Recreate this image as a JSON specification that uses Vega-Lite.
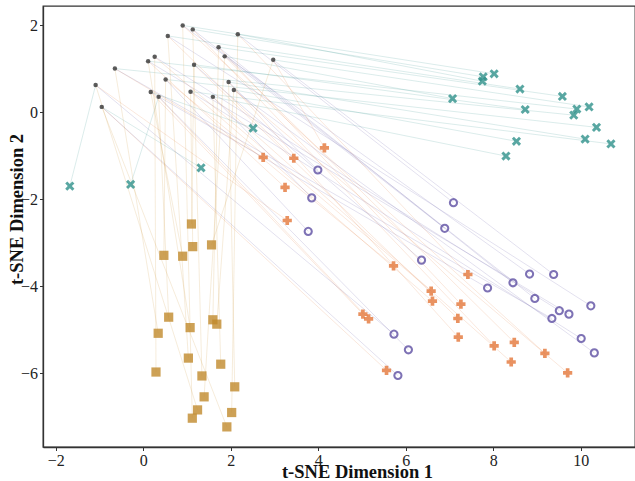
{
  "$schema": "https://vega.github.io/schema/vega-lite/v6.json",
  "width": 592,
  "height": 441,
  "autosize": {"type": "none"},
  "padding": {"left": 43, "top": 6, "right": 0, "bottom": 34},
  "background": "white",
  "config": {
    "font": "Liberation Serif",
    "view": {"stroke": "#333333", "strokeWidth": 1.3},
    "axis": {
      "grid": false,
      "domainColor": "#333333",
      "domainWidth": 1.3,
      "tickColor": "#333333",
      "tickSize": 3.5,
      "tickWidth": 1,
      "labelFont": "Liberation Serif",
      "labelFontSize": 16,
      "labelColor": "#222222",
      "titleFont": "Liberation Serif",
      "titleFontSize": 18.5,
      "titleFontWeight": "bold",
      "titleColor": "#111111"
    },
    "legend": {
      "orient": "none", "legendX": 204, "legendY": 379,
      "columns": 2, "columnPadding": 14, "rowPadding": 1.5,
      "labelFont": "Liberation Serif", "labelFontSize": 16, "labelColor": "#111111", "labelOffset": 4,
      "symbolStrokeWidth": 0, "symbolSize": 80,
      "padding": 5, "strokeColor": "#d0d0d0", "fillColor": "#ffffff", "cornerRadius": 3
    }
  },
  "datasets": {
    "points": [
      {"id": "b1", "dataset": "without TTSV", "x": 0.90, "y": 1.99},
      {"id": "b2", "dataset": "without TTSV", "x": 1.13, "y": 1.90},
      {"id": "b3", "dataset": "without TTSV", "x": 2.16, "y": 1.79},
      {"id": "b4", "dataset": "without TTSV", "x": 0.56, "y": 1.75},
      {"id": "b5", "dataset": "without TTSV", "x": 1.72, "y": 1.49},
      {"id": "b6", "dataset": "without TTSV", "x": 0.26, "y": 1.27},
      {"id": "b7", "dataset": "without TTSV", "x": 1.86, "y": 1.28},
      {"id": "b8", "dataset": "without TTSV", "x": 0.11, "y": 1.17},
      {"id": "b9", "dataset": "without TTSV", "x": 2.97, "y": 1.20},
      {"id": "b10", "dataset": "without TTSV", "x": -0.65, "y": 1.00},
      {"id": "b11", "dataset": "without TTSV", "x": 1.16, "y": 1.09},
      {"id": "b12", "dataset": "without TTSV", "x": 0.51, "y": 0.75},
      {"id": "b13", "dataset": "without TTSV", "x": 1.95, "y": 0.69},
      {"id": "b14", "dataset": "without TTSV", "x": 2.07, "y": 0.51},
      {"id": "b15", "dataset": "without TTSV", "x": -1.09, "y": 0.62},
      {"id": "b16", "dataset": "without TTSV", "x": 0.17, "y": 0.46},
      {"id": "b17", "dataset": "without TTSV", "x": 1.08, "y": 0.47},
      {"id": "b18", "dataset": "without TTSV", "x": 0.35, "y": 0.35},
      {"id": "b19", "dataset": "without TTSV", "x": 1.59, "y": 0.35},
      {"id": "b20", "dataset": "without TTSV", "x": -0.95, "y": 0.12},

      {"dataset": "TTSV on Olympiad Bench", "base": "b15", "x": -1.68, "y": -1.70},
      {"dataset": "TTSV on Olympiad Bench", "base": "b18", "x": -0.29, "y": -1.66},
      {"dataset": "TTSV on Olympiad Bench", "base": "b20", "x": 1.32, "y": -1.28},
      {"dataset": "TTSV on Olympiad Bench", "base": "b16", "x": 2.51, "y": -0.37},
      {"dataset": "TTSV on Olympiad Bench", "base": "b1", "x": 8.02, "y": 0.88},
      {"dataset": "TTSV on Olympiad Bench", "base": "b2", "x": 7.77, "y": 0.81},
      {"dataset": "TTSV on Olympiad Bench", "base": "b3", "x": 7.75, "y": 0.71},
      {"dataset": "TTSV on Olympiad Bench", "base": "b4", "x": 8.61, "y": 0.53},
      {"dataset": "TTSV on Olympiad Bench", "base": "b5", "x": 9.58, "y": 0.36},
      {"dataset": "TTSV on Olympiad Bench", "base": "b7", "x": 7.07, "y": 0.31},
      {"dataset": "TTSV on Olympiad Bench", "base": "b9", "x": 10.19, "y": 0.12},
      {"dataset": "TTSV on Olympiad Bench", "base": "b8", "x": 9.91, "y": 0.07},
      {"dataset": "TTSV on Olympiad Bench", "base": "b11", "x": 8.73, "y": 0.06},
      {"dataset": "TTSV on Olympiad Bench", "base": "b10", "x": 9.84, "y": -0.07},
      {"dataset": "TTSV on Olympiad Bench", "base": "b12", "x": 10.36, "y": -0.35},
      {"dataset": "TTSV on Olympiad Bench", "base": "b13", "x": 10.10, "y": -0.62},
      {"dataset": "TTSV on Olympiad Bench", "base": "b14", "x": 8.53, "y": -0.67},
      {"dataset": "TTSV on Olympiad Bench", "base": "b17", "x": 10.69, "y": -0.73},
      {"dataset": "TTSV on Olympiad Bench", "base": "b19", "x": 8.29, "y": -1.01},

      {"dataset": "TTSV on AMC23", "base": "b10", "x": 2.74, "y": -1.04},
      {"dataset": "TTSV on AMC23", "base": "b4", "x": 3.44, "y": -1.06},
      {"dataset": "TTSV on AMC23", "base": "b8", "x": 3.24, "y": -1.73},
      {"dataset": "TTSV on AMC23", "base": "b15", "x": 3.29, "y": -2.49},
      {"dataset": "TTSV on AMC23", "base": "b9", "x": 4.14, "y": -0.82},
      {"dataset": "TTSV on AMC23", "base": "b12", "x": 5.72, "y": -3.53},
      {"dataset": "TTSV on AMC23", "base": "b3", "x": 7.42, "y": -3.73},
      {"dataset": "TTSV on AMC23", "base": "b6", "x": 6.58, "y": -4.11},
      {"dataset": "TTSV on AMC23", "base": "b17", "x": 6.61, "y": -4.34},
      {"dataset": "TTSV on AMC23", "base": "b5", "x": 7.26, "y": -4.41},
      {"dataset": "TTSV on AMC23", "base": "b11", "x": 7.19, "y": -4.74},
      {"dataset": "TTSV on AMC23", "base": "b16", "x": 5.02, "y": -4.64},
      {"dataset": "TTSV on AMC23", "base": "b18", "x": 5.15, "y": -4.75},
      {"dataset": "TTSV on AMC23", "base": "b13", "x": 7.20, "y": -5.17},
      {"dataset": "TTSV on AMC23", "base": "b2", "x": 8.02, "y": -5.37},
      {"dataset": "TTSV on AMC23", "base": "b7", "x": 8.48, "y": -5.29},
      {"dataset": "TTSV on AMC23", "base": "b1", "x": 9.18, "y": -5.54},
      {"dataset": "TTSV on AMC23", "base": "b19", "x": 8.41, "y": -5.74},
      {"dataset": "TTSV on AMC23", "base": "b20", "x": 5.56, "y": -5.93},
      {"dataset": "TTSV on AMC23", "base": "b14", "x": 9.70, "y": -5.99},

      {"dataset": "TTSV on MATH500", "base": "b13", "x": 3.99, "y": -1.33},
      {"dataset": "TTSV on MATH500", "base": "b19", "x": 3.85, "y": -1.97},
      {"dataset": "TTSV on MATH500", "base": "b12", "x": 3.77, "y": -2.74},
      {"dataset": "TTSV on MATH500", "base": "b3", "x": 7.09, "y": -2.08},
      {"dataset": "TTSV on MATH500", "base": "b7", "x": 6.89, "y": -2.67},
      {"dataset": "TTSV on MATH500", "base": "b11", "x": 6.36, "y": -3.40},
      {"dataset": "TTSV on MATH500", "base": "b1", "x": 8.83, "y": -3.72},
      {"dataset": "TTSV on MATH500", "base": "b9", "x": 9.38, "y": -3.73},
      {"dataset": "TTSV on MATH500", "base": "b16", "x": 7.87, "y": -4.04},
      {"dataset": "TTSV on MATH500", "base": "b5", "x": 8.45, "y": -3.92},
      {"dataset": "TTSV on MATH500", "base": "b2", "x": 8.95, "y": -4.28},
      {"dataset": "TTSV on MATH500", "base": "b4", "x": 10.23, "y": -4.45},
      {"dataset": "TTSV on MATH500", "base": "b6", "x": 9.51, "y": -4.56},
      {"dataset": "TTSV on MATH500", "base": "b8", "x": 9.73, "y": -4.64},
      {"dataset": "TTSV on MATH500", "base": "b10", "x": 9.34, "y": -4.74},
      {"dataset": "TTSV on MATH500", "base": "b17", "x": 10.01, "y": -5.20},
      {"dataset": "TTSV on MATH500", "base": "b14", "x": 10.31, "y": -5.53},
      {"dataset": "TTSV on MATH500", "base": "b15", "x": 5.73, "y": -5.10},
      {"dataset": "TTSV on MATH500", "base": "b18", "x": 6.06, "y": -5.46},
      {"dataset": "TTSV on MATH500", "base": "b20", "x": 5.82, "y": -6.05},

      {"dataset": "TTSV on Minerva Math", "base": "b11", "x": 1.10, "y": -2.57},
      {"dataset": "TTSV on Minerva Math", "base": "b17", "x": 1.13, "y": -3.09},
      {"dataset": "TTSV on Minerva Math", "base": "b9", "x": 1.56, "y": -3.05},
      {"dataset": "TTSV on Minerva Math", "base": "b12", "x": 0.47, "y": -3.29},
      {"dataset": "TTSV on Minerva Math", "base": "b16", "x": 0.90, "y": -3.31},
      {"dataset": "TTSV on Minerva Math", "base": "b18", "x": 0.58, "y": -4.71},
      {"dataset": "TTSV on Minerva Math", "base": "b10", "x": 0.34, "y": -5.08},
      {"dataset": "TTSV on Minerva Math", "base": "b8", "x": 1.07, "y": -4.95},
      {"dataset": "TTSV on Minerva Math", "base": "b5", "x": 1.59, "y": -4.77},
      {"dataset": "TTSV on Minerva Math", "base": "b14", "x": 1.68, "y": -4.87},
      {"dataset": "TTSV on Minerva Math", "base": "b4", "x": 1.03, "y": -5.65},
      {"dataset": "TTSV on Minerva Math", "base": "b19", "x": 1.77, "y": -5.79},
      {"dataset": "TTSV on Minerva Math", "base": "b6", "x": 0.29, "y": -5.97},
      {"dataset": "TTSV on Minerva Math", "base": "b2", "x": 1.34, "y": -6.06},
      {"dataset": "TTSV on Minerva Math", "base": "b13", "x": 2.09, "y": -6.31},
      {"dataset": "TTSV on Minerva Math", "base": "b7", "x": 1.39, "y": -6.54},
      {"dataset": "TTSV on Minerva Math", "base": "b15", "x": 1.24, "y": -6.84},
      {"dataset": "TTSV on Minerva Math", "base": "b3", "x": 2.02, "y": -6.90},
      {"dataset": "TTSV on Minerva Math", "base": "b1", "x": 1.12, "y": -7.03},
      {"dataset": "TTSV on Minerva Math", "base": "b20", "x": 1.91, "y": -7.23}
    ]
  },
  "encoding": {
    "x": {"field": "x", "type": "quantitative", "scale": {"domain": [-2.293, 11.24], "nice": false, "zero": false},
          "axis": {"values": [-2, 0, 2, 4, 6, 8, 10], "title": "t-SNE Dimension 1", "titleX": 314, "titleY": 30, "titleAlign": "center", "titleBaseline": "alphabetic", "labelPadding": 2}},
    "y": {"field": "y", "type": "quantitative", "scale": {"domain": [-7.692, 2.437], "nice": false, "zero": false},
          "axis": {"values": [-6, -4, -2, 0, 2], "title": "t-SNE Dimension 2", "titleX": -21, "titleY": 203, "titleAngle": 270, "titleAlign": "center", "titleBaseline": "alphabetic", "labelPadding": 2}}
  },
  "layer": [
    {
      "data": {"name": "points"},
      "transform": [
        {"filter": "datum.dataset !== 'without TTSV'"},
        {"lookup": "base", "from": {"data": {"name": "points"}, "key": "id", "fields": ["x", "y"]}, "as": ["bx", "by"]}
      ],
      "mark": {"type": "rule", "strokeWidth": 0.7, "opacity": 0.25},
      "encoding": {
        "x2": {"field": "bx"},
        "y2": {"field": "by"},
        "stroke": {"field": "dataset", "type": "nominal",
                   "scale": {"domain": ["TTSV on AMC23", "TTSV on Olympiad Bench", "TTSV on MATH500", "without TTSV", "TTSV on Minerva Math"],
                             "range": ["#E4773A", "#2F918B", "#5E4FA2", "#333333", "#C8922E"]},
                   "legend": null}
      }
    },
    {
      "data": {"name": "points"},
      "transform": [{"filter": "datum.dataset !== 'without TTSV'"}],
      "mark": {"type": "point", "filled": true, "opacity": 0.8, "size": 85},
      "encoding": {
        "color": {"field": "dataset", "type": "nominal", "title": null,
                  "scale": {"domain": ["TTSV on AMC23", "TTSV on Olympiad Bench", "TTSV on MATH500", "without TTSV", "TTSV on Minerva Math"],
                            "range": ["#E4773A", "#2F918B", "#5E4FA2", "#333333", "#C08A2C"]}},
        "shape": {"field": "dataset", "type": "nominal", "title": null,
                  "scale": {"domain": ["TTSV on AMC23", "TTSV on Olympiad Bench", "TTSV on MATH500", "without TTSV", "TTSV on Minerva Math"],
                            "range": ["cross",
                                      "M0,-0.45L0.55,-1L1,-0.55L0.45,0L1,0.55L0.55,1L0,0.45L-0.55,1L-1,0.55L-0.45,0L-1,-0.55L-0.55,-1Z",
                                      "M1,0L0.924,0.383L0.707,0.707L0.383,0.924L0,1L-0.383,0.924L-0.707,0.707L-0.924,0.383L-1,0L-0.924,-0.383L-0.707,-0.707L-0.383,-0.924L0,-1L0.383,-0.924L0.707,-0.707L0.924,-0.383ZM0.55,0L0.508,-0.211L0.389,-0.389L0.211,-0.508L0,-0.55L-0.211,-0.508L-0.389,-0.389L-0.508,-0.211L-0.55,0L-0.508,0.211L-0.389,0.389L-0.211,0.508L0,0.55L0.211,0.508L0.389,0.389L0.508,0.211Z",
                                      "circle",
                                      "square"]}}
      }
    },
    {
      "data": {"name": "points"},
      "transform": [{"filter": "datum.dataset === 'without TTSV'"}],
      "mark": {"type": "point", "filled": true, "opacity": 0.8, "size": 20},
      "encoding": {
        "color": {"field": "dataset", "type": "nominal", "title": null},
        "shape": {"field": "dataset", "type": "nominal", "title": null}
      }
    }
  ]
}
